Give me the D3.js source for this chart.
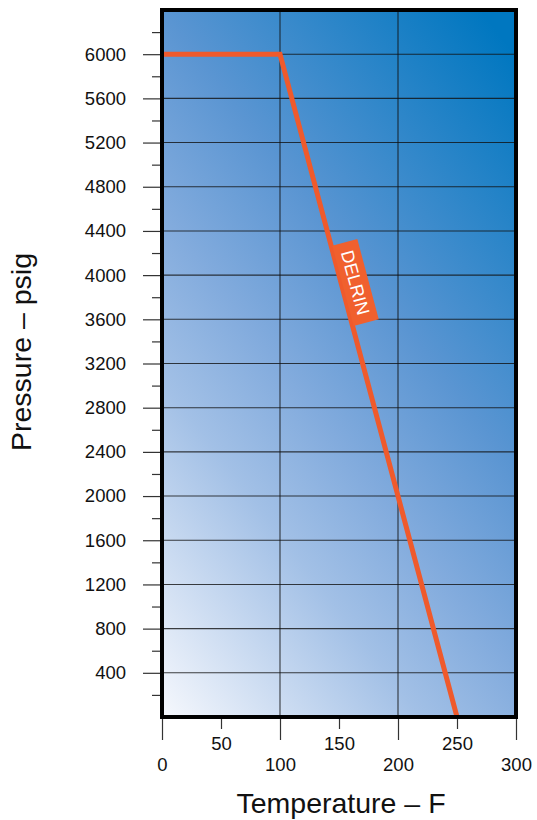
<!DOCTYPE html>
<html>
<head>
<meta charset="utf-8">
<script src="https://cdn.jsdelivr.net/npm/d3@7/dist/d3.min.js"></script>
<style>
  html, body { margin: 0; padding: 0; background: #ffffff; }
  svg { display: block; }
  text { font-family: "Liberation Sans", Arial, Helvetica, sans-serif; fill: #111; }
</style>
</head>
<body>
<svg id="chart" width="537" height="820"></svg>
<script>
// ---- data ----
const temperatures = [0, 100, 250];          // F
const pressures    = [6000, 6000, 0];        // psig
const seriesName   = "DELRIN";
const labelPressure = 3900;
const xMajorTicks = [0, 100, 200, 300];
const xMinorTicks = [50, 150, 250];
const yMajorTicks = [400, 800, 1200, 1600, 2000, 2400, 2800, 3200, 3600, 4000, 4400, 4800, 5200, 5600, 6000];
const yMinorTicks = [200, 600, 1000, 1400, 1800, 2200, 2600, 3000, 3400, 3800, 4200, 4600, 5000, 5400, 5800, 6200];
const xTitle = "Temperature \u2013 F";
const yTitle = "Pressure \u2013 psig";

// ---- layout ----
const svg = d3.select("#chart");
const x = d3.scaleLinear().domain([0, 300]).range([162, 516]);
const y = d3.scaleLinear().domain([0, 6400]).range([717, 10]);

// gradient background
const defs = svg.append("defs");
const grad = defs.append("linearGradient")
  .attr("id", "bg").attr("gradientUnits", "userSpaceOnUse")
  .attr("x1", x(0)).attr("y1", y(0))
  .attr("x2", x(0) + 542).attr("y2", y(0) - 417);
[[0, "#f6f8fd"], [0.3, "#a2c0e6"], [0.45, "#82abdd"], [0.63, "#5a95d2"], [1, "#0077c0"]]
  .forEach(([o, c]) => grad.append("stop").attr("offset", o).attr("stop-color", c));
defs.append("clipPath").attr("id", "plotclip").append("rect")
  .attr("x", x(0)).attr("y", y(6400)).attr("width", x(300) - x(0)).attr("height", y(0) - y(6400));

svg.append("rect")
  .attr("x", x(0)).attr("y", y(6400))
  .attr("width", x(300) - x(0)).attr("height", y(0) - y(6400))
  .attr("fill", "url(#bg)");

// gridlines
const grid = svg.append("g").attr("stroke", "#111").attr("stroke-opacity", 0.8).attr("stroke-width", 1.1);
grid.selectAll("line.h").data(yMajorTicks).join("line").attr("class", "h")
  .attr("x1", x(0)).attr("x2", x(300)).attr("y1", d => y(d)).attr("y2", d => y(d));
grid.selectAll("line.v").data([100, 200]).join("line").attr("class", "v")
  .attr("y1", y(0)).attr("y2", y(6400)).attr("x1", d => x(d)).attr("x2", d => x(d));

// y axis
const yAxisMajor = svg.append("g").attr("transform", `translate(${x(0)},0)`)
  .call(d3.axisLeft(y).tickValues(yMajorTicks).tickSize(19).tickPadding(17).tickFormat(d3.format("d")));
const yAxisMinor = svg.append("g").attr("transform", `translate(${x(0)},0)`)
  .call(d3.axisLeft(y).tickValues(yMinorTicks).tickSize(10).tickFormat(""));

// x axis
const xAxisMajor = svg.append("g").attr("transform", `translate(0,${y(0)})`)
  .call(d3.axisBottom(x).tickValues(xMajorTicks).tickSize(23).tickPadding(18).tickFormat(d3.format("d")));
const xAxisMinor = svg.append("g").attr("transform", `translate(0,${y(0)})`)
  .call(d3.axisBottom(x).tickValues(xMinorTicks).tickSize(12).tickPadding(8).tickFormat(d3.format("d")));

[yAxisMajor, yAxisMinor, xAxisMajor, xAxisMinor].forEach(g => {
  g.select(".domain").remove();
  g.selectAll(".tick line").attr("stroke", "#333").attr("stroke-width", 1.2);
  g.selectAll(".tick text")
    .style("font-family", '"Liberation Sans", Arial, sans-serif')
    .style("font-size", "18.5px").attr("fill", "#1a1a1a");
});

// series line
const line = d3.line().x(d => x(d[0])).y(d => y(d[1]));
const pts = temperatures.map((t, i) => [t, pressures[i]]);
svg.append("path").datum(pts)
  .attr("clip-path", "url(#plotclip)")
  .attr("d", line)
  .attr("fill", "none").attr("stroke", "#ef5a2c").attr("stroke-width", 5)
  .attr("stroke-linejoin", "miter");

// series label along the sloped segment
const p1 = [x(temperatures[1]), y(pressures[1])], p2 = [x(temperatures[2]), y(pressures[2])];
const ang = Math.atan2(p2[1] - p1[1], p2[0] - p1[0]);
const tAt = temperatures[1] + (pressures[1] - labelPressure) / (pressures[1] - pressures[2]) * (temperatures[2] - temperatures[1]);
const off = 14;
const cx = x(tAt) + off * Math.sin(ang);
const cy = y(labelPressure) - off * Math.cos(ang);
const lab = svg.append("g").attr("transform", `translate(${cx},${cy}) rotate(${ang * 180 / Math.PI})`);
lab.append("rect").attr("x", -41.5).attr("y", -13).attr("width", 83).attr("height", 26).attr("fill", "#f0602e");
lab.append("text").attr("text-anchor", "middle").attr("dy", "0.36em")
  .style("font-size", "18px").style("fill", "#ffffff").text(seriesName);

// frame
svg.append("rect")
  .attr("x", x(0)).attr("y", y(6400))
  .attr("width", x(300) - x(0)).attr("height", y(0) - y(6400))
  .attr("fill", "none").attr("stroke", "#000").attr("stroke-width", 4);

// titles
svg.append("text").attr("x", 341).attr("y", 813).attr("text-anchor", "middle")
  .style("font-size", "28.5px").text(xTitle);
svg.append("text").attr("transform", "translate(31,352) rotate(-90)").attr("text-anchor", "middle")
  .style("font-size", "28.5px").text(yTitle);
</script>
</body>
</html>
